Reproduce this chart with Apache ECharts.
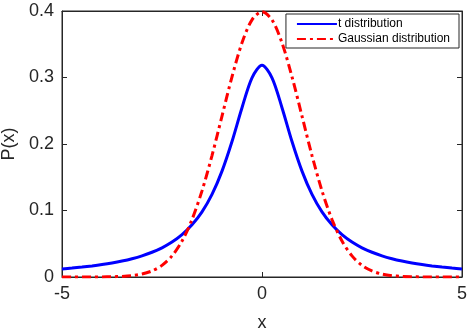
<!doctype html>
<html>
<head>
    <meta charset="utf-8">
    <title>t vs Gaussian</title>
    <script type="text/javascript" src="https://cdn.jsdelivr.net/npm/echarts@6/dist/echarts.min.js"></script>
    <style>
        html, body { margin: 0; padding: 0; background: #fff; }
        #container { width: 474px; height: 334px; }
    </style>
</head>
<body>
<div id="container"></div>
<script type="text/javascript">
    // x 取样点
    var xs = [-5, -4.75, -4.5, -4.25, -4, -3.75, -3.5, -3.25, -3, -2.75, -2.5, -2.25, -2, -1.75, -1.5, -1.25, -1, -0.75, -0.5, -0.25,
        0, 0.25, 0.5, 0.75, 1, 1.25, 1.5, 1.75, 2, 2.25, 2.5, 2.75, 3, 3.25, 3.5, 3.75, 4, 4.25, 4.5, 4.75, 5];
    // t 分布
    var tDist = [0.0122, 0.0135, 0.0150, 0.0167, 0.0187, 0.0211, 0.0240, 0.0275, 0.0318, 0.0372, 0.0439, 0.0525, 0.0637, 0.0784, 0.0979, 0.1242, 0.1592, 0.2037, 0.2546, 0.2996,
        0.3183, 0.2996, 0.2546, 0.2037, 0.1592, 0.1242, 0.0979, 0.0784, 0.0637, 0.0525, 0.0439, 0.0372, 0.0318, 0.0275, 0.0240, 0.0211, 0.0187, 0.0167, 0.0150, 0.0135, 0.0122];
    // 高斯分布
    var gauss = [0, 0, 0, 0, 0.0001, 0.0004, 0.0009, 0.0020, 0.0044, 0.0091, 0.0175, 0.0317, 0.0540, 0.0863, 0.1295, 0.1826, 0.2420, 0.3011, 0.3521, 0.3867,
        0.3989, 0.3867, 0.3521, 0.3011, 0.2420, 0.1826, 0.1295, 0.0863, 0.0540, 0.0317, 0.0175, 0.0091, 0.0044, 0.0020, 0.0009, 0.0004, 0.0001, 0, 0, 0, 0];
    var xTicks = [-5, 0, 5];
    var yTicks = [0, 0.1, 0.2, 0.3, 0.4];

    function pairs(ys) {
        var out = [];
        for (var i = 0; i < xs.length; i++) out.push([xs[i], ys[i]]);
        return out;
    }

    var dom = document.getElementById("container");
    var myChart = echarts.init(dom);
    var font = 'Liberation Sans, Arial, sans-serif';
    var axisColor = '#262626';

    var option = {
        animation: false,
        grid: { left: 62, right: 12, top: 11, bottom: 57, show: true, borderColor: axisColor, borderWidth: 1,
            containLabel: false, outerBoundsMode: 'none' },
        legend: {
            orient: 'vertical',
            right: 15, top: 14,
            itemWidth: 40, itemHeight: 3, itemGap: 3,
            padding: [4, 9, 3, 10],
            borderColor: axisColor, borderWidth: 1, borderRadius: 0,
            backgroundColor: '#fff',
            itemStyle: { opacity: 0 },
            textStyle: { fontFamily: font, fontSize: 12, color: '#000', padding: [0, 0, 0, -4] },
            data: ['t distribution', 'Gaussian distribution']
        },
        xAxis: [{
            type: 'value', min: -5, max: 5, interval: 5,
            name: 'x', nameLocation: 'middle', nameGap: 37,
            nameTextStyle: { fontFamily: font, fontSize: 18, color: axisColor },
            axisLine: { onZero: false, lineStyle: { color: axisColor } },
            axisTick: { inside: true, length: 5, lineStyle: { color: axisColor } },
            axisLabel: { fontFamily: font, fontSize: 18, color: axisColor, margin: 8,
                formatter: function (v) { return xTicks.indexOf(v) >= 0 ? String(v) : ''; } },
            splitLine: { show: false }
        }, {
            type: 'value', min: -5, max: 5, interval: 5, position: 'top',
            axisLine: { onZero: false, lineStyle: { color: axisColor } },
            axisTick: { inside: true, length: 5, lineStyle: { color: axisColor } },
            axisLabel: { show: false }, splitLine: { show: false }
        }],
        yAxis: [{
            type: 'value', min: 0, max: 0.4, interval: 0.1,
            name: 'P(x)', nameLocation: 'middle', nameGap: 34,
            nameTextStyle: { fontFamily: font, fontSize: 18, color: axisColor },
            axisLine: { show: true, onZero: false, lineStyle: { color: axisColor } },
            axisTick: { show: true, inside: true, length: 5, lineStyle: { color: axisColor } },
            axisLabel: { fontFamily: font, fontSize: 18, color: axisColor, margin: 8,
                formatter: function (v) {
                    var r = Math.round(v * 10) / 10;
                    return yTicks.indexOf(r) >= 0 ? (r === 0 ? '0' : r.toFixed(1)) : '';
                } },
            splitLine: { show: false }
        }, {
            type: 'value', min: 0, max: 0.4, interval: 0.1, position: 'right',
            axisLine: { show: true, onZero: false, lineStyle: { color: axisColor } },
            axisTick: { show: true, inside: true, length: 5, lineStyle: { color: axisColor } },
            axisLabel: { show: false }, splitLine: { show: false }
        }],
        series: [{
            name: 't distribution', type: 'line', smooth: 0.3, symbol: 'none',
            lineStyle: { color: '#0000ff', width: 3 },
            itemStyle: { color: '#0000ff' },
            data: pairs(tDist)
        }, {
            name: 'Gaussian distribution', type: 'line', smooth: 0.3, symbol: 'none',
            lineStyle: { color: '#ff0000', width: 3, type: [9, 4, 3, 4] },
            itemStyle: { color: '#ff0000' },
            data: pairs(gauss)
        }]
    };

    if (option && typeof option === "object") {
        myChart.setOption(option, true);
    }
</script>
</body>
</html>
